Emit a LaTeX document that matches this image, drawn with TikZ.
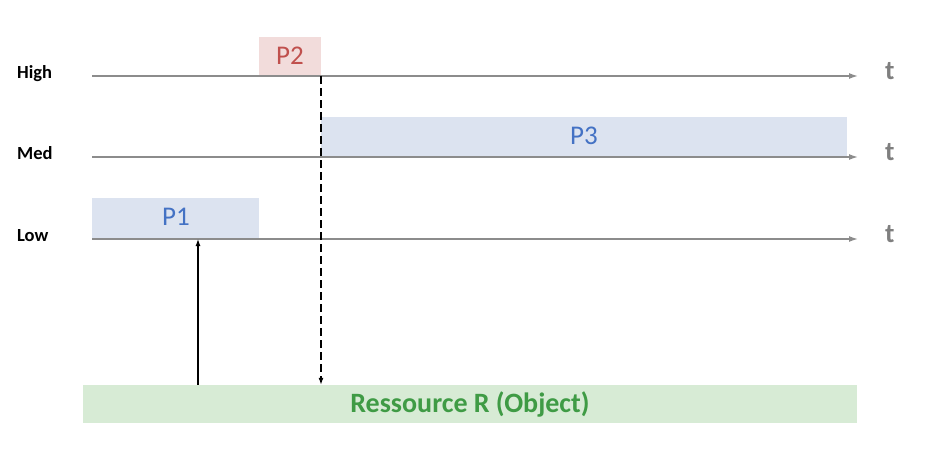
\documentclass[tikz,border=0pt]{standalone}
\usepackage{fontspec}
\setmainfont{Carlito}
\usetikzlibrary{arrows.meta, positioning}
\definecolor{axisgray}{HTML}{8C8C8C}
\definecolor{tgray}{HTML}{7F7F7F}
\definecolor{pinkfill}{HTML}{F2DCDB}
\definecolor{pinktext}{HTML}{C0504D}
\definecolor{bluefill}{HTML}{DCE3F0}
\definecolor{bluetext}{HTML}{4472C4}
\definecolor{greenfill}{HTML}{D7EBD5}
\definecolor{greentext}{HTML}{3F9B45}

\begin{document}
\begin{tikzpicture}[x=1pt, y=-1pt,
  level/.style={anchor=base west, inner sep=0pt, font=\bfseries\fontsize{18.5}{20}\selectfont},
  tlabel/.style={anchor=base west, inner sep=0pt, text=tgray, font=\bfseries\fontsize{27}{30}\selectfont},
  timeaxis/.style={axisgray, line width=1.4pt, -{Latex[length=9pt, width=6pt]}},
  procbox/.style={inner sep=0pt, font=\fontsize{27}{30}\selectfont},
  lockarrow/.style={black, line width=1.2pt, -{Latex[length=7pt, width=5pt]}}]
\useasboundingbox (0,0) rectangle (936,460);

\fill[pinkfill] (259,37) rectangle (321,76);
\node[procbox, text=pinktext] (p2) at (290,56) {P2};
\fill[bluefill] (321,117) rectangle (847,157);
\node[procbox, text=bluetext] (p3) at (584,136) {P3};
\fill[bluefill] (92,198) rectangle (259,239);
\node[procbox, text=bluetext] (p1) at (176,217) {P1};

\node[level] (high) at (17,78) {High};
\node[level] (med) at (17,159) {Med};
\node[level] (low) at (17,241) {Low};

\coordinate (hs) at (92,76);  \coordinate (he) at (858,76);
\coordinate (ms) at (92,157); \coordinate (me) at (858,157);
\coordinate (ls) at (92,239); \coordinate (le) at (858,239);
\draw[timeaxis] (hs) -- (he);
\draw[timeaxis] (ms) -- (me);
\draw[timeaxis] (ls) -- (le);
\node[tlabel] (th) at (885,79) {t};
\node[tlabel] (tm) at (885,160) {t};
\node[tlabel] (tl) at (885,242) {t};

\node[fill=greenfill, minimum width=774pt, minimum height=38pt, inner sep=0pt,
  text=greentext, font=\bfseries\fontsize{28}{30}\selectfont] (res) at (470,404) {Ressource R (Object)};

\coordinate (grab) at (198,239);
\coordinate (wait) at (321,76);
\draw[lockarrow] (res.north -| grab) -- (grab);
\draw[lockarrow, dash pattern=on 8pt off 4pt] (wait) -- (res.north -| wait);
\end{tikzpicture}
\end{document}
